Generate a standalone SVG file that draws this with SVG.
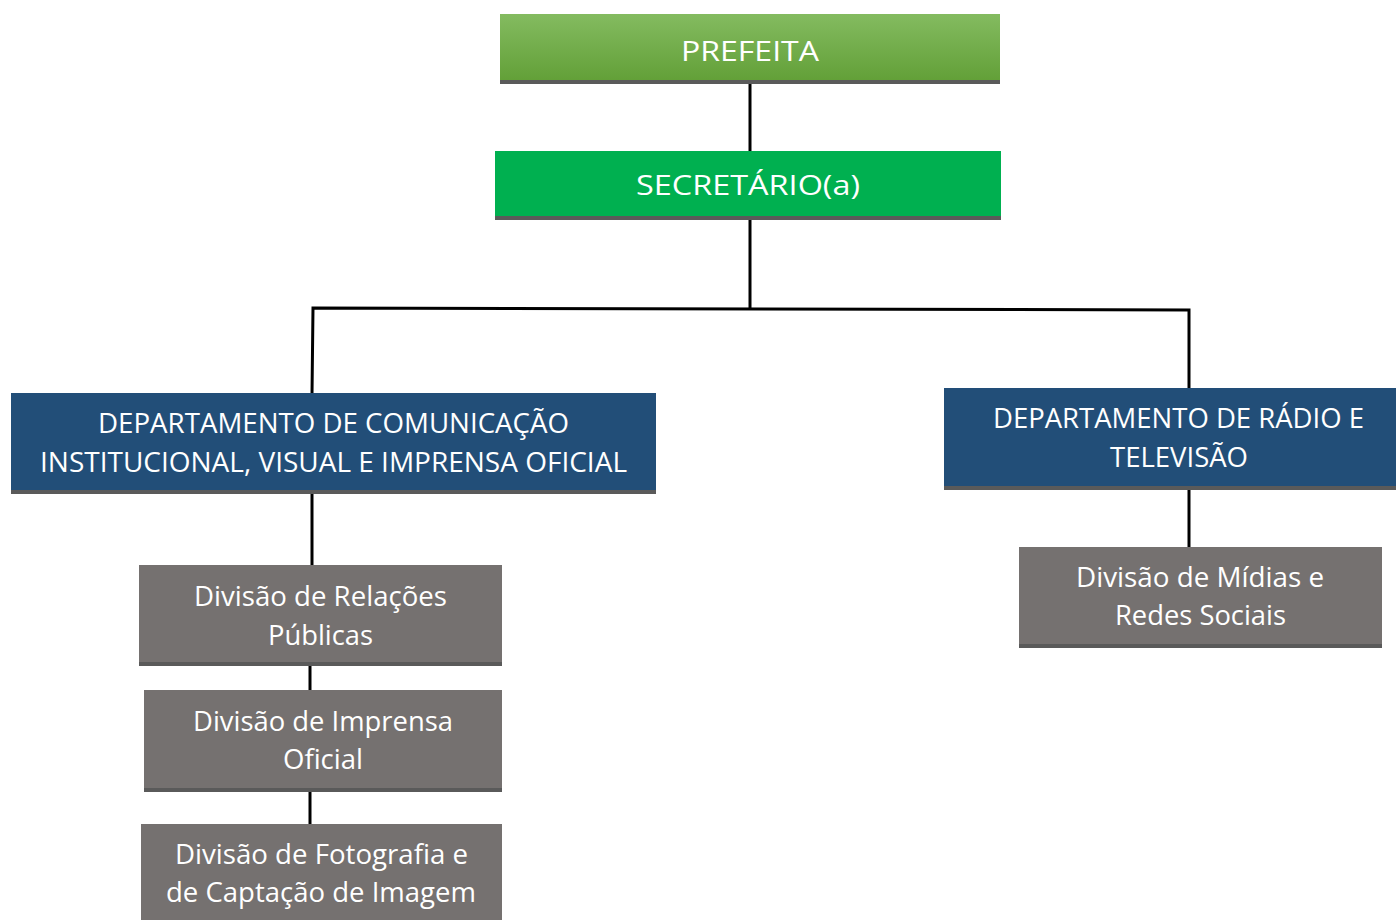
<svg xmlns="http://www.w3.org/2000/svg" width="1396" height="920" viewBox="0 0 1396 920">
<defs>
<linearGradient id="gTop" x1="0" y1="0" x2="0" y2="1">
<stop offset="0" stop-color="#84BB60"/>
<stop offset="1" stop-color="#63A038"/>
</linearGradient>
</defs>
<style>
text{font-family:"Open Sans","Liberation Sans",sans-serif;fill:#fff;text-anchor:middle;font-size:27px}
.d{font-size:28px}
.shadow{fill:#5a5a5a}
.dept{fill:#224E78}
.div{fill:#757170}
.conn{stroke:#000;stroke-width:3;fill:none}
</style>
<rect width="1396" height="920" fill="#fff"/>
<g id="connectors">
<line class="conn" x1="750" y1="82" x2="750" y2="152"/>
<line class="conn" x1="750" y1="218" x2="750" y2="308"/>
<polyline class="conn" points="312,394 313,308 1189,310 1189,389"/>
<line class="conn" x1="312" y1="492" x2="312" y2="566"/>
<line class="conn" x1="310" y1="664" x2="310" y2="691"/>
<line class="conn" x1="310" y1="790" x2="310" y2="825"/>
<line class="conn" x1="1189" y1="488" x2="1189" y2="548"/>
</g>
<g id="prefeita">
<rect x="500" y="14" width="500" height="70" class="shadow"/>
<rect x="500" y="14" width="500" height="66" fill="url(#gTop)"/>
<text x="750" y="60.5" font-size="33" textLength="138" lengthAdjust="spacingAndGlyphs">PREFEITA</text>
</g>
<g id="secretario">
<rect x="495" y="151" width="506" height="69" class="shadow"/>
<rect x="495" y="151" width="506" height="65" fill="#00B050"/>
<text x="748" y="195" font-size="32" textLength="224" lengthAdjust="spacingAndGlyphs">SECRETÁRIO(a)</text>
</g>
<g id="dept-comunicacao">
<rect x="11" y="393" width="645" height="101" class="shadow"/>
<rect x="11" y="393" width="645" height="97" class="dept"/>
<text class="d" x="333.5" y="433" textLength="471" lengthAdjust="spacingAndGlyphs">DEPARTAMENTO DE COMUNICAÇÃO</text>
<text class="d" x="333.5" y="472" textLength="587" lengthAdjust="spacingAndGlyphs">INSTITUCIONAL, VISUAL E IMPRENSA OFICIAL</text>
</g>
<g id="dept-radio">
<rect x="944" y="388" width="452" height="102" class="shadow"/>
<rect x="944" y="388" width="452" height="98" class="dept"/>
<text class="d" x="1178.5" y="428" textLength="371" lengthAdjust="spacingAndGlyphs">DEPARTAMENTO DE RÁDIO E</text>
<text class="d" x="1179" y="467" textLength="138" lengthAdjust="spacingAndGlyphs">TELEVISÃO</text>
</g>
<g id="div-relacoes">
<rect x="139" y="565" width="363" height="101" class="shadow"/>
<rect x="139" y="565" width="363" height="97" class="div"/>
<text x="320.5" y="606" textLength="253" lengthAdjust="spacingAndGlyphs">Divisão de Relações</text>
<text x="320.5" y="645" textLength="105" lengthAdjust="spacingAndGlyphs">Públicas</text>
</g>
<g id="div-imprensa">
<rect x="144" y="690" width="358" height="102" class="shadow"/>
<rect x="144" y="690" width="358" height="98" class="div"/>
<text x="323" y="731" textLength="260" lengthAdjust="spacingAndGlyphs">Divisão de Imprensa</text>
<text x="323" y="769" textLength="80" lengthAdjust="spacingAndGlyphs">Oficial</text>
</g>
<g id="div-fotografia">
<rect x="141" y="824" width="361" height="100" class="div"/>
<text x="321.5" y="864" textLength="293" lengthAdjust="spacingAndGlyphs">Divisão de Fotografia e</text>
<text x="321" y="902" textLength="310" lengthAdjust="spacingAndGlyphs">de Captação de Imagem</text>
</g>
<g id="div-midias">
<rect x="1019" y="547" width="363" height="101" class="shadow"/>
<rect x="1019" y="547" width="363" height="97" class="div"/>
<text x="1200" y="587" textLength="248" lengthAdjust="spacingAndGlyphs">Divisão de Mídias e</text>
<text x="1200.5" y="625" textLength="171" lengthAdjust="spacingAndGlyphs">Redes Sociais</text>
</g>
</svg>
